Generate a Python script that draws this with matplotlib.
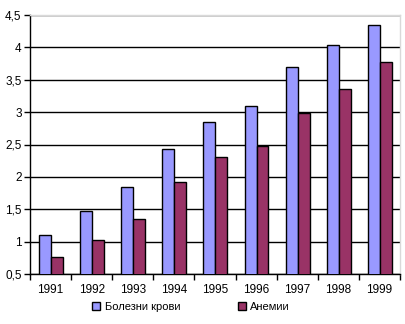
import matplotlib
matplotlib.use("Agg")
import matplotlib.pyplot as plt
import numpy as np

years = ["1991", "1992", "1993", "1994", "1995", "1996", "1997", "1998", "1999"]
blood = [1.10, 1.47, 1.84, 2.43, 2.85, 3.10, 3.69, 4.03, 4.35]
anemia = [0.76, 1.03, 1.35, 1.92, 2.31, 2.48, 2.99, 3.36, 3.77]
yticks = [0.5, 1, 1.5, 2, 2.5, 3, 3.5, 4, 4.5]
ylabels = ["0,5", "1", "1,5", "2", "2,5", "3", "3,5", "4", "4,5"]

plt.rcParams['font.family'] = ['Liberation Sans', 'DejaVu Sans']
fig = plt.figure(figsize=(4.05, 3.24), dpi=100)
ax = fig.add_axes([30/405, 1 - 274/324, 370/405, 259/324])

x = np.arange(len(years))
w = 0.29
ax.bar(x - w/2 + 0.01, blood, w, color="#9999FF", edgecolor="black", linewidth=1.0, label="Болезни крови", zorder=3)
ax.bar(x + w/2 + 0.01, anemia, w, color="#993366", edgecolor="black", linewidth=1.0, label="Анемии", zorder=3)

ax.set_xlim(-0.5, len(years) - 0.5)
ax.set_ylim(0.5, 4.5)
ax.set_yticks(yticks)
ax.set_yticklabels(ylabels, fontsize=8.5)
ax.set_xticks(x)
ax.set_xticklabels(years, fontsize=8.5)
ax.tick_params(axis='x', length=0, pad=7)
ax.set_xticks(np.arange(len(years) + 1) - 0.5, minor=True)
ax.tick_params(axis='x', which='minor', length=4, width=1, direction='out')
ax.tick_params(axis='y', length=4, width=1, direction='out', pad=2)

ax.yaxis.grid(True, color="black", linewidth=1.0, zorder=0)
ax.set_axisbelow(True)
for s in ["top", "right"]:
    ax.spines[s].set_color("#D9D9D9")
    ax.spines[s].set_linewidth(1.0)
for s in ["left", "bottom"]:
    ax.spines[s].set_color("black")
    ax.spines[s].set_linewidth(1.0)

leg = fig.legend(loc="center", bbox_to_anchor=(191/405, 1 - 307/324), ncol=2, frameon=False,
                 fontsize=8, handlelength=0.7, handleheight=0.7, columnspacing=5.2, handletextpad=0.4)

fig.savefig("out.png", dpi=100)
